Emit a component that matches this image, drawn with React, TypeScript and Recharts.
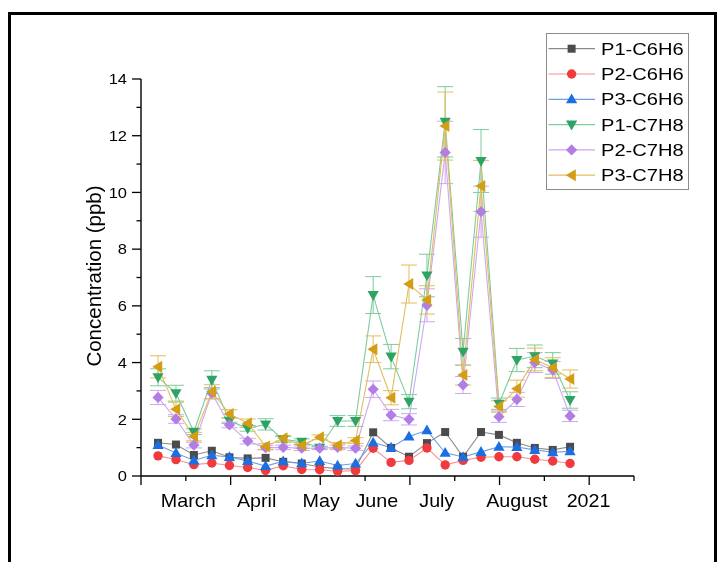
import React from 'react';
import { LineChart, Line, XAxis, YAxis, ErrorBar, Legend } from 'recharts';

// sampling positions (days on the date axis, 0 = first major tick)
const days = [5.7, 11.7, 17.7, 23.7, 29.6, 35.7, 41.7, 47.6, 53.8, 59.8, 65.8, 71.8, 77.7, 83.7, 89.7, 95.7, 101.8, 107.8, 113.8, 119.8, 125.8, 131.8, 137.8, 143.6];

const p1C6H6 = [1.17, 1.11, 0.74, 0.89, 0.66, 0.62, 0.64, 0.5, 0.44, 0.32, 0.26, 0.25, 1.54, 0.99, 0.68, 1.16, 1.55, 0.68, 1.55, 1.45, 1.17, 0.99, 0.92, 1.03];
const p2C6H6 = [0.71, 0.58, 0.40, 0.46, 0.37, 0.30, 0.20, 0.36, 0.23, 0.22, 0.17, 0.19, 0.98, 0.48, 0.55, 0.99, 0.39, 0.55, 0.66, 0.68, 0.68, 0.59, 0.53, 0.44];
const p3C6H6 = [1.09, 0.81, 0.55, 0.73, 0.67, 0.53, 0.35, 0.52, 0.45, 0.53, 0.37, 0.44, 1.18, 1.0, 1.39, 1.61, 0.82, 0.67, 0.85, 1.03, 1.02, 0.92, 0.84, 0.87];
const p1C7H8 = [3.48, 2.92, 1.56, 3.39, 1.95, 1.68, 1.82, 1.29, 1.21, 1.0, 1.94, 1.94, 6.38, 4.21, 2.62, 7.07, 12.49, 4.38, 11.11, 2.55, 4.09, 4.22, 3.97, 2.68];
const p2C7H8 = [2.77, 2.01, 1.09, 2.92, 1.8, 1.23, 1.0, 1.01, 0.98, 0.98, 1.01, 0.98, 3.06, 2.15, 2.0, 6.02, 11.41, 3.21, 9.32, 2.09, 2.7, 4.0, 3.74, 2.12];
const p3C7H8 = [3.85, 2.35, 1.39, 2.97, 2.19, 1.86, 1.04, 1.33, 1.08, 1.37, 1.08, 1.25, 4.47, 2.76, 6.77, 6.21, 12.34, 3.56, 10.23, 2.45, 3.08, 4.11, 3.82, 3.42];

const p1C7H8Err = [0.3, 0.28, 0.1, 0.32, 0.1, 0.1, 0.2, 0.1, 0.1, 0.05, 0.19, 0.19, 0.65, 0.43, 0.25, 0.75, 1.24, 0.47, 1.11, 0.2, 0.41, 0.4, 0.38, 0.29];
const p2C7H8Err = [0.25, 0.15, 0.1, 0.2, 0.1, 0.1, 0.08, 0.08, 0.08, 0.05, 0.08, 0.08, 0.29, 0.2, 0.2, 0.58, 1.1, 0.3, 0.9, 0.2, 0.25, 0.35, 0.3, 0.2];
const p3C7H8Err = [0.39, 0.25, 0.15, 0.25, 0.15, 0.15, 0.1, 0.1, 0.1, 0.08, 0.1, 0.1, 0.47, 0.25, 0.67, 0.5, 1.2, 0.35, 0.9, 0.2, 0.3, 0.4, 0.35, 0.32];

const monthLabels = ['March', 'April', 'May', 'June', 'July', 'August', '2021'];
const monthLabelPos = [15.8, 38.7, 60.3, 78.9, 99.0, 125.8, 149.8];
const majorXTicks = [0, 30, 60, 90, 120, 150];
const minorXTicks = [15, 45, 75, 105, 135, 165];
const yTicks = [0, 1, 2, 3, 4, 5, 6, 7, 8, 9, 10, 11, 12, 13, 14];

const FONT = '"Liberation Sans", Arial, sans-serif';

type Shape = 'square' | 'circle' | 'up' | 'down' | 'diamond' | 'left';

const series: { key: string; name: string; shape: Shape; fill: string; line: string; err?: string }[] = [
  { key: 'p1b', name: 'P1-C6H6', shape: 'square', fill: '#4b4b4b', line: '#8a8a8a' },
  { key: 'p2b', name: 'P2-C6H6', shape: 'circle', fill: '#f03a3e', line: '#f59090' },
  { key: 'p3b', name: 'P3-C6H6', shape: 'up', fill: '#1b6fe3', line: '#6a9fe8' },
  { key: 'p1t', name: 'P1-C7H8', shape: 'down', fill: '#2ea464', line: '#7ccc9e', err: 'p1tErr' },
  { key: 'p2t', name: 'P2-C7H8', shape: 'diamond', fill: '#b27de4', line: '#cda7f0', err: 'p2tErr' },
  { key: 'p3t', name: 'P3-C7H8', shape: 'left', fill: '#d39d15', line: '#e2bd5c', err: 'p3tErr' },
];

const data = days.map((d, i) => ({
  day: d,
  p1b: p1C6H6[i],
  p2b: p2C6H6[i],
  p3b: p3C6H6[i],
  p1t: p1C7H8[i],
  p2t: p2C7H8[i],
  p3t: p3C7H8[i],
  p1tErr: p1C7H8Err[i],
  p2tErr: p2C7H8Err[i],
  p3tErr: p3C7H8Err[i],
}));

function Marker({ shape, cx, cy, fill }: { shape: Shape; cx: number; cy: number; fill: string }) {
  switch (shape) {
    case 'square':
      return <rect x={cx - 4} y={cy - 4} width={8} height={8} fill={fill} />;
    case 'circle':
      return <circle cx={cx} cy={cy} r={4.7} fill={fill} />;
    case 'up':
      return <polygon points={`${cx},${cy - 5.8} ${cx + 5.6},${cy + 4} ${cx - 5.6},${cy + 4}`} fill={fill} />;
    case 'down':
      return <polygon points={`${cx - 5.6},${cy - 4} ${cx + 5.6},${cy - 4} ${cx},${cy + 5.8}`} fill={fill} />;
    case 'diamond':
      return <polygon points={`${cx},${cy - 5.6} ${cx + 5.6},${cy} ${cx},${cy + 5.6} ${cx - 5.6},${cy}`} fill={fill} />;
    case 'left':
    default:
      return <polygon points={`${cx - 5.8},${cy} ${cx + 4.2},${cy - 6} ${cx + 4.2},${cy + 6}`} fill={fill} />;
  }
}

const YTick = (props: any) => {
  const { x, y, payload } = props;
  const v = payload.value as number;
  const major = v % 2 === 0;
  return (
    <g>
      <line x1={x - (major ? 9 : 4.5)} x2={x} y1={y} y2={y} stroke="#000" strokeWidth={1.3} />
      {major && (
        <text
          transform={`translate(${x - 14},${y + 5.3}) scale(1.1,1)`}
          textAnchor="end"
          fontSize={15}
          fontFamily={FONT}
          fill="#000"
        >
          {v}
        </text>
      )}
    </g>
  );
};

const XTick = (props: any) => {
  const { x, y, payload } = props;
  const v = payload.value as number;
  const li = monthLabelPos.indexOf(v);
  if (li >= 0) {
    return (
      <text
        transform={`translate(${x},${y + 31.3}) scale(1.06,1)`}
        textAnchor="middle"
        fontSize={18.6}
        fontFamily={FONT}
        fill="#000"
      >
        {monthLabels[li]}
      </text>
    );
  }
  const major = majorXTicks.includes(v);
  return <line x1={x} x2={x} y1={y} y2={y + (major ? 9 : 5)} stroke="#000" strokeWidth={1.3} />;
};

const YLabel = () => (
  <text
    transform="translate(85,268) rotate(-90)"
    textAnchor="middle"
    fontSize={20.5}
    fontFamily={FONT}
    fill="#000"
    dominantBaseline="central"
  >
    Concentration (ppb)
  </text>
);

const LegendBox = () => (
  <svg width={146} height={160} style={{ display: 'block', overflow: 'visible' }}>
    <rect x={0.5} y={0.5} width={142} height={156} fill="#fff" stroke="#8c8c8c" strokeWidth={1} />
    {series.map((s, i) => {
      const cy = 15.7 + i * 25.3;
      return (
        <g key={s.key}>
          <line x1={2.5} x2={49} y1={cy} y2={cy} stroke={s.line} strokeWidth={1.2} />
          <Marker shape={s.shape} cx={25.6} cy={cy} fill={s.fill} />
          <text
            transform={`translate(55,${cy + 6}) scale(1.22,1)`}
            fontSize={16.5}
            fontFamily={FONT}
            fill="#000"
          >
            {s.name}
          </text>
        </g>
      );
    })}
  </svg>
);

export default function App() {
  return (
    <div style={{ position: 'relative', width: 715, height: 546 }}>
      <div
        style={{
          position: 'fixed',
          left: 8,
          top: 12,
          width: 709,
          height: 600,
          border: '3px solid #000',
          borderBottom: 'none',
          boxSizing: 'border-box',
          pointerEvents: 'none',
        }}
      />
      <LineChart
        width={715}
        height={546}
        data={data}
        margin={{ top: 71, right: 89, left: 73, bottom: 38 }}
      >
        <XAxis
          dataKey="day"
          type="number"
          domain={[0, 165]}
          ticks={[...majorXTicks, ...minorXTicks, ...monthLabelPos]}
          interval={0}
          tick={<XTick />}
          tickLine={false}
          tickSize={0}
          tickMargin={0}
          height={40}
          axisLine={{ stroke: '#000', strokeWidth: 1.4 }}
          allowDataOverflow
        />
        <YAxis
          type="number"
          domain={[0, 14]}
          ticks={yTicks}
          interval={0}
          tick={<YTick />}
          tickLine={false}
          tickSize={0}
          tickMargin={0}
          width={60}
          axisLine={{ stroke: '#000', strokeWidth: 1.4 }}
          label={<YLabel />}
          allowDataOverflow
        />
        <Legend
          layout="vertical"
          align="center"
          verticalAlign="middle"
          wrapperStyle={{ left: 538, top: 25, width: 146, height: 160 }}
          content={() => <LegendBox />}
        />
        {series.map((s) => (
          <Line
            key={s.key}
            dataKey={s.key}
            name={s.name}
            stroke={s.line}
            strokeWidth={1.1}
            isAnimationActive={false}
            activeDot={false}
            dot={(p: any) => (
              <g key={`${s.key}-${p.index}`}>
                <Marker shape={s.shape} cx={p.cx} cy={p.cy} fill={s.fill} />
              </g>
            )}
          >
            {s.err && (
              <ErrorBar dataKey={s.err} width={8} stroke={s.line} strokeWidth={1} direction="y" />
            )}
          </Line>
        ))}
      </LineChart>
    </div>
  );
}
